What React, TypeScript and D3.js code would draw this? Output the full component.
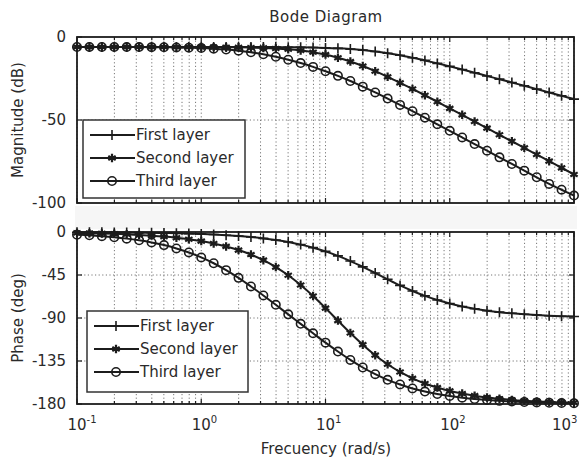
import { useEffect, useRef } from 'react'
import * as d3 from 'd3'

// frequency points (rad/s), 10 per decade
const freqs = [
    0.1, 0.1259, 0.1585, 0.1995, 0.2512, 0.3162, 0.3981, 0.5012, 0.631, 0.7943,
    1, 1.259, 1.585, 1.995, 2.512, 3.162, 3.981, 5.012, 6.31, 7.943,
    10, 12.59, 15.85, 19.95, 25.12, 31.62, 39.81, 50.12, 63.1, 79.43,
    100, 125.9, 158.5, 199.5, 251.2, 316.2, 398.1, 501.2, 631, 794.3, 1000
]

const magFirst = [
    -6.0, -6.0, -6.0, -6.0, -6.0, -6.0, -6.0, -6.0, -6.0, -6.0,
    -6.01, -6.01, -6.02, -6.02, -6.04, -6.06, -6.09, -6.15, -6.23, -6.36,
    -6.56, -6.85, -7.29, -7.89, -8.71, -9.75, -11.0, -12.5, -14.1, -15.9,
    -17.7, -19.6, -21.5, -23.5, -25.4, -27.4, -29.4, -31.4, -33.4, -35.4, -37.4
]
const magSecond = [
    -6.0, -6.0, -6.0, -6.0, -6.0, -6.0, -6.01, -6.02, -6.02, -6.04,
    -6.06, -6.1, -6.15, -6.24, -6.37, -6.58, -6.91, -7.4, -8.12, -9.16,
    -10.6, -12.5, -14.8, -17.5, -20.6, -24.0, -27.6, -31.3, -35.1, -39.0,
    -43.0, -46.9, -50.9, -54.9, -58.9, -62.8, -66.8, -70.8, -74.8, -78.8, -82.8
]
const magThird = [
    -6.01, -6.01, -6.02, -6.03, -6.05, -6.07, -6.11, -6.18, -6.28, -6.44,
    -6.67, -7.03, -7.54, -8.26, -9.22, -10.4, -11.9, -13.7, -15.7, -18.0,
    -20.6, -23.4, -26.5, -29.9, -33.4, -37.1, -40.9, -44.7, -48.6, -52.6,
    -56.5, -60.5, -64.5, -68.5, -72.5, -76.5, -80.5, -84.5, -88.5, -92.0, -95.5
]

const phaseFirst = [
    -0.2, -0.27, -0.34, -0.42, -0.53, -0.67, -0.84, -1.06, -1.34, -1.69,
    -2.12, -2.67, -3.36, -4.23, -5.31, -6.68, -8.39, -10.5, -13.2, -16.4,
    -20.3, -25.0, -30.4, -36.5, -42.9, -49.5, -55.9, -61.7, -66.8, -71.2,
    -74.9, -77.9, -80.3, -82.3, -83.9, -85.1, -86.1, -86.9, -87.6, -88.1, -88.5
]
const phaseSecond = [
    -0.95, -1.2, -1.51, -1.91, -2.4, -3.02, -3.8, -4.78, -6.02, -7.57,
    -9.53, -12.0, -15.1, -18.9, -23.6, -29.5, -36.7, -45.3, -55.5, -67.0,
    -79.6, -92.7, -105.7, -117.9, -128.9, -138.4, -146.5, -153.1, -158.5, -162.8,
    -166.3, -169.1, -171.3, -173.1, -174.5, -175.7, -176.6, -177.3, -177.8, -178.3, -178.6
]
const phaseThird = [
    -2.77, -3.48, -4.38, -5.52, -6.94, -8.72, -10.9, -13.7, -17.2, -21.4,
    -26.6, -32.7, -39.9, -48.0, -57.0, -66.4, -76.2, -86.2, -96.1, -106.0,
    -115.8, -125.1, -133.9, -141.8, -148.8, -154.7, -159.6, -163.7, -167.0, -169.6,
    -171.7, -173.4, -174.8, -175.8, -176.7, -177.4, -177.9, -178.3, -178.7, -179.0, -179.2
]

const layerNames = ['First layer', 'Second layer', 'Third layer']
const markerKinds = ['plus', 'star', 'circle']
const xTickExps = [-1, 0, 1, 2, 3]
const magTicks = [0, -50, -100]
const phaseTicks = [0, -45, -90, -135, -180]

const FONT = '"DejaVu Sans", "Noto Sans", sans-serif'
const INK = '#1c1c1c'
const TEXT = '#2a2a2a'

function BodeChart() {
    const ref = useRef<SVGSVGElement>(null)

    useEffect(() => {
        const svg = d3.select(ref.current)
        svg.selectAll('*').remove()

        const left = 77
        const right = 574
        const x = d3.scaleLog().domain([0.1, 1000]).range([left, right])
        const yMag = d3.scaleLinear().domain([-100, 0]).range([203, 37])
        const yPh = d3.scaleLinear().domain([-180, 0]).range([404, 232])

        // faint band between the two axes
        svg.append('rect')
            .attr('x', 75).attr('y', 206).attr('width', 502).attr('height', 23)
            .attr('fill', '#f6f6f6')

        const minors: number[] = []
        for (let e = -1; e < 3; e++) {
            for (let k = 2; k <= 9; k++) minors.push(k * Math.pow(10, e))
        }
        const majors = xTickExps.map(e => Math.pow(10, e))

        const panel = (
            y: d3.ScaleLinear<number, number>,
            ticks: number[],
            series: number[][],
            legendBox: { x: number, y: number, w: number, h: number },
            showXLabels: boolean,
            id: string
        ) => {
            const [yb, yt] = y.range()
            const g = svg.append('g')

            g.append('rect')
                .attr('x', left).attr('y', yt).attr('width', right - left).attr('height', yb - yt)
                .attr('fill', '#fff')

            // grid
            g.selectAll('.vgrid')
                .data(minors.concat(majors))
                .join('line')
                .attr('x1', d => x(d)).attr('x2', d => x(d))
                .attr('y1', yt).attr('y2', yb)
                .attr('stroke', '#777')
                .attr('stroke-width', 1)
                .attr('stroke-dasharray', '1.2,2.4')

            g.selectAll('.hgrid')
                .data(ticks.slice(1, -1))
                .join('line')
                .attr('x1', left).attr('x2', right)
                .attr('y1', d => y(d)).attr('y2', d => y(d))
                .attr('stroke', '#777')
                .attr('stroke-width', 1)
                .attr('stroke-dasharray', '1.2,2.4')

            // ticks (inward, both sides)
            const tickData = minors.map(v => ({ v, len: 3 })).concat(majors.map(v => ({ v, len: 5 })))
            g.selectAll('.tb')
                .data(tickData)
                .join('line')
                .attr('x1', d => x(d.v)).attr('x2', d => x(d.v))
                .attr('y1', yb).attr('y2', d => yb - d.len)
                .attr('stroke', INK).attr('stroke-width', 1.2)
            g.selectAll('.tt')
                .data(tickData)
                .join('line')
                .attr('x1', d => x(d.v)).attr('x2', d => x(d.v))
                .attr('y1', yt).attr('y2', d => yt + d.len)
                .attr('stroke', INK).attr('stroke-width', 1.2)
            g.selectAll('.tl')
                .data(ticks)
                .join('line')
                .attr('x1', left).attr('x2', left + 5)
                .attr('y1', d => y(d)).attr('y2', d => y(d))
                .attr('stroke', INK).attr('stroke-width', 1.2)
            g.selectAll('.tr')
                .data(ticks)
                .join('line')
                .attr('x1', right).attr('x2', right - 5)
                .attr('y1', d => y(d)).attr('y2', d => y(d))
                .attr('stroke', INK).attr('stroke-width', 1.2)

            g.selectAll('.ylab')
                .data(ticks)
                .join('text')
                .attr('x', left - 11)
                .attr('y', d => y(d) + 5)
                .attr('text-anchor', 'end')
                .attr('font-family', FONT)
                .attr('font-size', 15)
                .attr('fill', TEXT)
                .text(d => String(d))

            if (showXLabels) {
                xTickExps.forEach((e, i) => {
                    const tx = x(Math.pow(10, e))
                    // "10" centred on the tick; last label kept inside the page
                    const startX = i === xTickExps.length - 1 ? tx - 22 : tx - 9.5
                    const t = g.append('text')
                        .attr('x', startX)
                        .attr('y', yb + 26)
                        .attr('text-anchor', 'start')
                        .attr('font-family', FONT)
                        .attr('font-size', 15)
                        .attr('fill', TEXT)
                    t.append('tspan').text('10')
                    t.append('tspan')
                        .attr('dy', -7)
                        .attr('font-size', 10)
                        .text(String(e))
                })
            }

            g.append('clipPath').attr('id', id)
                .append('rect')
                .attr('x', left - 6).attr('y', yt - 6).attr('width', right - left + 12).attr('height', yb - yt + 12)

            const plot = g.append('g').attr('clip-path', `url(#${id})`)
            const line = d3.line<number>()
                .x((_, i) => x(freqs[i]))
                .y(d => y(d))
                .curve(d3.curveMonotoneX)

            series.forEach((vals, si) => {
                plot.append('path')
                    .datum(vals)
                    .attr('d', line)
                    .attr('fill', 'none')
                    .attr('stroke', INK)
                    .attr('stroke-width', 2)
                vals.forEach((v, i) => drawMarker(plot, markerKinds[si], x(freqs[i]), y(v)))
            })

            // frame
            g.append('rect')
                .attr('x', left).attr('y', yt).attr('width', right - left).attr('height', yb - yt)
                .attr('fill', 'none')
                .attr('stroke', INK)
                .attr('stroke-width', 1.8)

            // legend
            const lg = g.append('g')
            lg.append('rect')
                .attr('x', legendBox.x).attr('y', legendBox.y)
                .attr('width', legendBox.w).attr('height', legendBox.h)
                .attr('fill', '#fff')
                .attr('stroke', '#333')
                .attr('stroke-width', 1.5)
            layerNames.forEach((name, i) => {
                const ly = legendBox.y + 15 + i * 23
                const lx = legendBox.x + 7
                lg.append('line')
                    .attr('x1', lx).attr('x2', lx + 45)
                    .attr('y1', ly).attr('y2', ly)
                    .attr('stroke', INK).attr('stroke-width', 2)
                drawMarker(lg, markerKinds[i], lx + 22, ly)
                lg.append('text')
                    .attr('x', lx + 46)
                    .attr('y', ly + 5)
                    .attr('font-family', FONT)
                    .attr('font-size', 15)
                    .attr('fill', TEXT)
                    .text(name)
            })
        }

        panel(yMag, magTicks, [magFirst, magSecond, magThird],
            { x: 83, y: 120, w: 162, h: 78 }, false, 'clipMag')
        panel(yPh, phaseTicks, [phaseFirst, phaseSecond, phaseThird],
            { x: 87, y: 311, w: 161, h: 81 }, true, 'clipPh')

        svg.append('text')
            .attr('x', 326).attr('y', 22)
            .attr('text-anchor', 'middle')
            .attr('font-family', FONT).attr('font-size', 15).attr('fill', TEXT)
            .attr('letter-spacing', 0.5)
            .text('Bode Diagram')

        svg.append('text')
            .attr('transform', 'translate(23,120) rotate(-90)')
            .attr('text-anchor', 'middle')
            .attr('font-family', FONT).attr('font-size', 15).attr('fill', TEXT)
            .text('Magnitude (dB)')

        svg.append('text')
            .attr('transform', 'translate(23,318) rotate(-90)')
            .attr('text-anchor', 'middle')
            .attr('font-family', FONT).attr('font-size', 15).attr('fill', TEXT)
            .text('Phase (deg)')

        svg.append('text')
            .attr('x', 326).attr('y', 454)
            .attr('text-anchor', 'middle')
            .attr('font-family', FONT).attr('font-size', 15).attr('fill', TEXT)
            .text('Frecuency (rad/s)')
    }, [])

    return (
        <svg
            ref={ref}
            width={585}
            height={462}
            style={{ position: 'absolute', left: 0, top: 0, background: '#fff' }}
        />
    )
}

function drawMarker(g: d3.Selection<SVGGElement, unknown, null, undefined>, kind: string, cx: number, cy: number) {
    if (kind === 'plus') {
        g.append('path')
            .attr('d', `M${cx - 5},${cy}H${cx + 5}M${cx},${cy - 5}V${cy + 5}`)
            .attr('stroke', INK).attr('stroke-width', 1.6).attr('fill', 'none')
    } else if (kind === 'star') {
        g.append('path')
            .attr('d', d3.symbol().type(d3.symbolAsterisk).size(50)() as string)
            .attr('transform', `translate(${cx},${cy})`)
            .attr('stroke', INK).attr('stroke-width', 2.2).attr('fill', 'none')
    } else {
        g.append('circle')
            .attr('cx', cx).attr('cy', cy).attr('r', 4.2)
            .attr('stroke', INK).attr('stroke-width', 1.6).attr('fill', 'none')
    }
}

export default function App() {
    return <BodeChart />
}
